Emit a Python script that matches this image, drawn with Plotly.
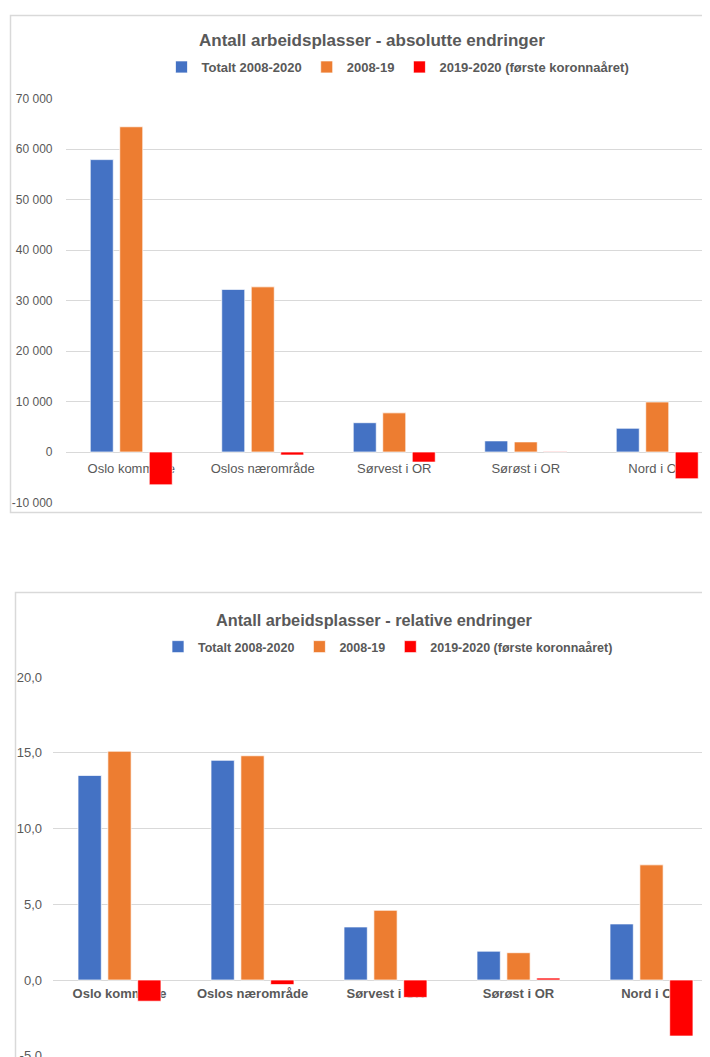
import plotly.graph_objects as go

categories = ["Oslo kommune", "Oslos nærområde", "Sørvest i OR", "Sørøst i OR", "Nord i OR"]
series_names = ["Totalt 2008-2020", "2008-19", "2019-2020 (første koronnaåret)"]

abs_total = [57900, 32200, 5800, 2200, 4700]
abs_0819 = [64400, 32700, 7750, 2000, 9900]
abs_1920 = [-6500, -600, -2000, 100, -5300]

rel_total = [13.5, 14.5, 3.5, 1.9, 3.7]
rel_0819 = [15.1, 14.8, 4.6, 1.8, 7.6]
rel_1920 = [-1.4, -0.3, -1.15, 0.13, -3.7]

abs_ticks = [-10000, 0, 10000, 20000, 30000, 40000, 50000, 60000, 70000]
abs_tick_labels = ["-10 000", "0", "10 000", "20 000", "30 000", "40 000", "50 000", "60 000", "70 000"]
rel_ticks = [-5, 0, 5, 10, 15, 20]
rel_tick_labels = ["-5,0", "0,0", "5,0", "10,0", "15,0", "20,0"]

colors = ["#4472C4", "#ED7D31", "#FF0000"]
W, H = 710, 1057
OFF = 8  # page body margin offset
GRID = "#d9d9d9"
TXT = "#595959"
FONT = "Liberation Sans, Arial, sans-serif"

def py(px):
    return 1 - (px - OFF) / H

def px_(x):
    return (x - OFF) / W

fig = go.Figure()

for vals, name, col in zip([abs_total, abs_0819, abs_1920], series_names, colors):
    fig.add_trace(go.Bar(x=categories, y=vals, name=name,
                         marker=dict(color=col, line=dict(color="rgba(255,255,255,0.7)", width=1)),
                         xaxis="x", yaxis="y", legend="legend"))
for vals, name, col in zip([rel_total, rel_0819, rel_1920], series_names, colors):
    fig.add_trace(go.Bar(x=categories, y=vals, name=name,
                         marker=dict(color=col, line=dict(color="rgba(255,255,255,0.7)", width=1)),
                         xaxis="x2", yaxis="y2", legend="legend2"))

top_yr = [-10000, 70000]
top_dom = [py(502.5), py(98.5)]
bot_yr = [-5, 20]
bot_dom = [py(1055.75), py(677)]

def zero_pos(rng, dom):
    return dom[0] + (0 - rng[0]) / (rng[1] - rng[0]) * (dom[1] - dom[0])

def open_frame(x0, y_top, y_bot, x_end=1.2):
    # frame without a right edge (the chart box continues past the window)
    p = f"M {x_end},{y_top} L {x0},{y_top} L {x0},{y_bot}"
    if y_bot > -0.5:
        p += f" L {x_end},{y_bot}"
    return p

fig.update_layout(
    width=W, height=H, margin=dict(l=0, r=0, t=0, b=0, autoexpand=False),
    paper_bgcolor="white", plot_bgcolor="white",
    barmode="group", bargap=0.327, bargroupgap=0.22,
    font=dict(family=FONT, color=TXT),
    showlegend=True,
    xaxis=dict(domain=[px_(65.5), 1], range=[-0.5, 4.462], anchor="free", position=zero_pos(top_yr, top_dom),
               showgrid=False, showline=False, ticks="", layer="below traces", automargin=False,
               tickfont=dict(size=13, color=TXT), ticklabelstandoff=7, fixedrange=True),
    yaxis=dict(domain=top_dom, range=top_yr, anchor="x", tickvals=abs_ticks, ticktext=abs_tick_labels,
               showgrid=True, gridcolor=GRID, gridwidth=1, zeroline=True, zerolinecolor=GRID, zerolinewidth=1,
               showline=False, ticks="", automargin=False, tickfont=dict(size=12, color=TXT), ticklabelstandoff=12),
    xaxis2=dict(domain=[px_(53), 1], range=[-0.5, 4.5], anchor="free", position=zero_pos(bot_yr, bot_dom),
                showgrid=False, showline=False, ticks="", layer="below traces", automargin=False,
                tickfont=dict(size=13, color=TXT, weight="bold"), ticklabelstandoff=4),
    yaxis2=dict(domain=bot_dom, range=bot_yr, anchor="x2", tickvals=rel_ticks, ticktext=rel_tick_labels,
                showgrid=True, gridcolor=GRID, gridwidth=1, zeroline=True, zerolinecolor=GRID, zerolinewidth=1,
                showline=False, ticks="", automargin=False, tickfont=dict(size=13, color=TXT), ticklabelstandoff=10),
    legend=dict(orientation="h", x=px_(398), xanchor="center", y=py(67), yanchor="middle",
                font=dict(size=13, color=TXT, weight="bold"), itemwidth=30, bgcolor="rgba(0,0,0,0)", tracegroupgap=0),
    legend2=dict(orientation="h", x=px_(388), xanchor="center", y=py(647), yanchor="middle",
                 font=dict(size=12.5, color=TXT, weight="bold"), itemwidth=30, bgcolor="rgba(0,0,0,0)", tracegroupgap=0),
    annotations=[
        dict(text="<b>Antall arbeidsplasser - absolutte endringer</b>", xref="paper", yref="paper",
             x=px_(371.5), y=py(40), xanchor="center", yanchor="middle", showarrow=False,
             font=dict(size=17, color=TXT, family=FONT)),
        dict(text="<b>Antall arbeidsplasser - relative endringer</b>", xref="paper", yref="paper",
             x=px_(374), y=py(620), xanchor="center", yanchor="middle", showarrow=False,
             font=dict(size=16.3, color=TXT, family=FONT)),
    ],
    shapes=[
        dict(type="path", xref="paper", yref="paper", path=open_frame(px_(10.5), py(15.5), py(512.5)),
             line=dict(color=GRID, width=1.5), layer="below"),
        dict(type="path", xref="paper", yref="paper", path=open_frame(px_(15.5), py(592.5), -1.0),
             line=dict(color=GRID, width=1.5), layer="below"),
    ],
)

fig.write_html("out.html")
